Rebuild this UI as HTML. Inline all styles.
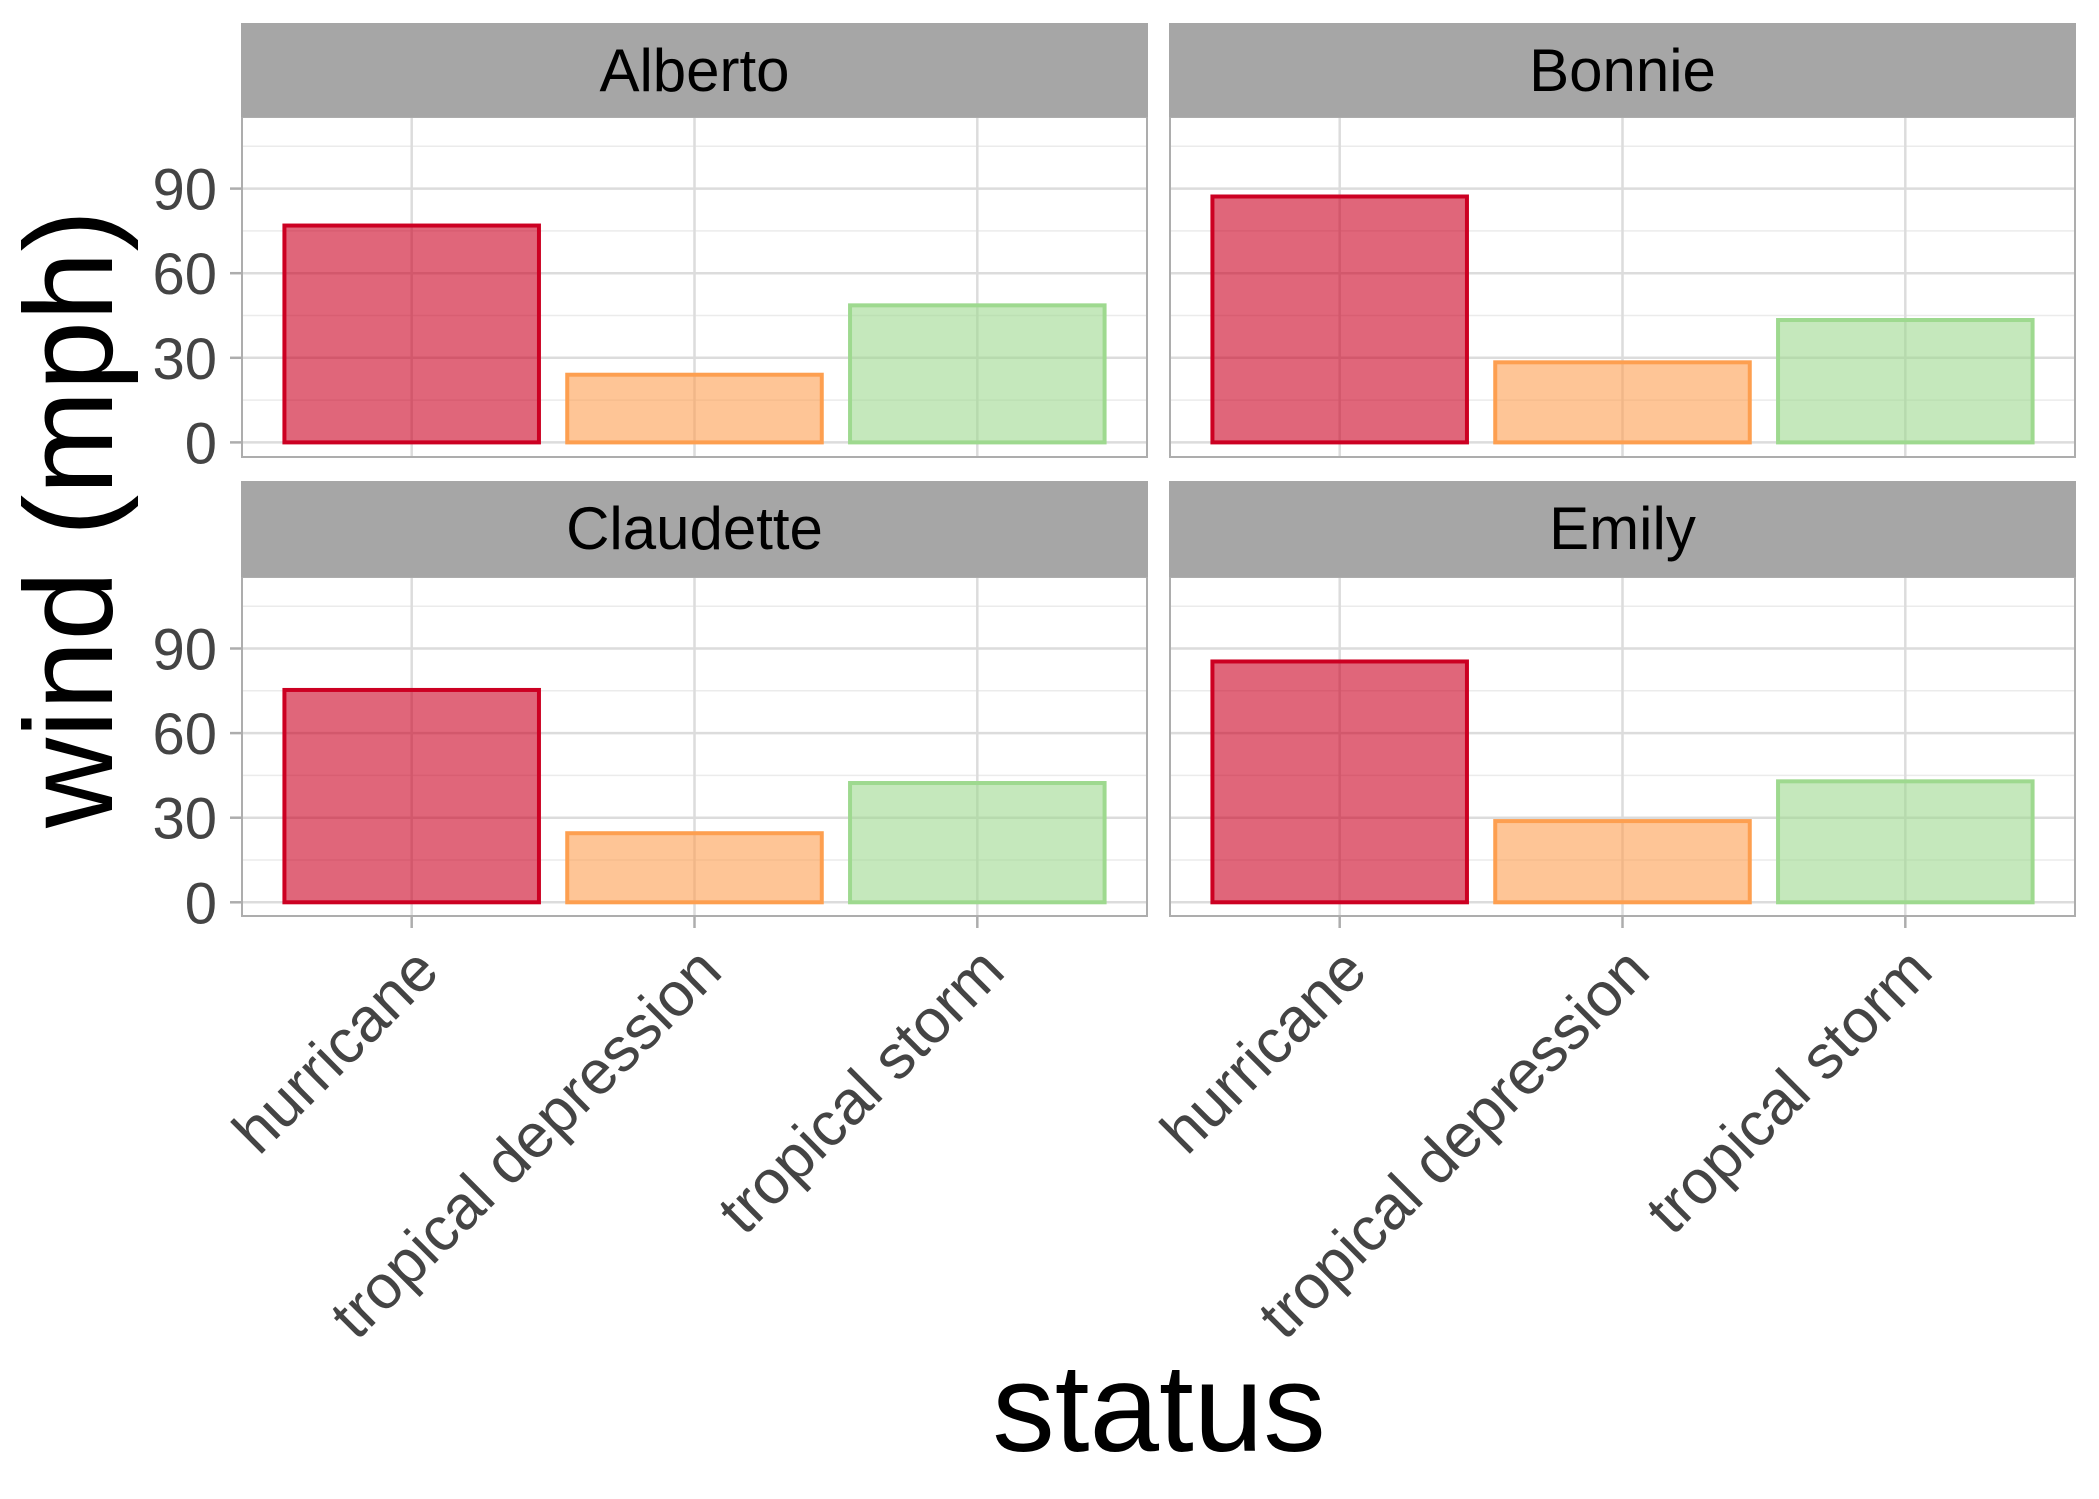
<!DOCTYPE html>
<html><head><meta charset="utf-8">
<style>
html,body{margin:0;padding:0;background:#fff;}
svg{display:block;font-family:"Liberation Sans",Arial,sans-serif;}
</style></head>
<body>
<svg id="chart" width="2099" height="1499" viewBox="0 0 2099 1499" xmlns="http://www.w3.org/2000/svg">
<rect width="2099" height="1499" fill="#fff"/>
<g id="panels"></g>
<text x="0" y="0" transform="translate(112,519) rotate(-90)" text-anchor="middle" font-size="125" fill="#000">wind (mph)</text>
<text x="1159" y="1451" text-anchor="middle" font-size="125" fill="#000">status</text>
</svg>
<script>
const storms = ["Alberto", "Bonnie", "Claudette", "Emily"];
const categories = ["hurricane", "tropical depression", "tropical storm"];
const windAlberto = [76.9, 24, 48.6];
const windBonnie = [87.2, 28.4, 43.4];
const windClaudette = [75.3, 24.5, 42.3];
const windEmily = [85.4, 28.8, 42.9];
const yTicks = [0, 30, 60, 90];
const yMinor = [15, 45, 75, 105];

const seriesByStorm = [windAlberto, windBonnie, windClaudette, windEmily];
const strokeColors = ["#cc0022", "#fd9f50", "#9ed98f"];
const NS = "http://www.w3.org/2000/svg";
const root = document.getElementById("panels");

const cols = [{x0: 242, x1: 1147}, {x0: 1170, x1: 2075}];
const rows = [{st: 23, pt: 117, pb: 457, zero: 442.4}, {st: 481, pt: 577, pb: 916, zero: 902.3}];
const pxPerUnit = 84.6 / 30;
const xExpand = 0.6;

function mk(tag, attrs, parent) {
  const e = document.createElementNS(NS, tag);
  for (const k in attrs) e.setAttribute(k, attrs[k]);
  parent.appendChild(e);
  return e;
}
function cat_slug(s) { return s.replace(/\s+/g, '-'); }

storms.forEach((name, i) => {
  const c = cols[i % 2], r = rows[Math.floor(i / 2)];
  const g = mk("g", {}, root);
  
  
  const n = categories.length;
  const step = (c.x1 - c.x0) / (n - 1 + 2 * xExpand);
  const xScale = k => c.x0 + step * (xExpand + k);
  const yScale = v => r.zero - v * pxPerUnit;
  mk("rect", {x: c.x0, y: r.pt, width: c.x1 - c.x0, height: r.pb - r.pt, fill: "#fff"}, g);
  yMinor.forEach(v => {
    const y = yScale(v);
    const l = mk("line", {x1: c.x0, x2: c.x1, y1: y, y2: y, stroke: "#ebebeb", "stroke-width": 1.5}, g);
    
    
  });
  yTicks.forEach(v => {
    const y = yScale(v);
    const l = mk("line", {x1: c.x0, x2: c.x1, y1: y, y2: y, stroke: "#dcdcdc", "stroke-width": 2.5}, g);
    
    
  });
  categories.forEach((cat, k) => {
    const x = xScale(k);
    mk("line", {x1: x, x2: x, y1: r.pt, y2: r.pb, stroke: "#dcdcdc", "stroke-width": 2.5}, g);
  });
  const vals = seriesByStorm[i];
  vals.forEach((v, k) => {
    const bw = step * 0.9;
    const x = xScale(k) - bw / 2;
    const y = yScale(v);
    const rect = mk("rect", {x: x, y: y, width: bw, height: yScale(0) - y, fill: strokeColors[k], "fill-opacity": 0.6, stroke: strokeColors[k], "stroke-width": 4}, g);
    
    
  });
  mk("rect", {x: c.x0, y: r.pt, width: c.x1 - c.x0, height: r.pb - r.pt, fill: "none", stroke: "#adadad", "stroke-width": 2}, g);
  const strip = mk("rect", {x: c.x0 - 1, y: r.st, width: c.x1 - c.x0 + 2, height: r.pt - r.st, fill: "#a6a6a6"}, g);
  
  
  const st = mk("text", {x: (c.x0 + c.x1) / 2, y: r.st + 68, "text-anchor": "middle", "font-size": 60, fill: "#000"}, g);
  st.textContent = name;
  
  
  if (i % 2 === 0) {
    yTicks.forEach(v => {
      const y = yScale(v);
      mk("line", {x1: c.x0 - 12, x2: c.x0, y1: y, y2: y, stroke: "#adadad", "stroke-width": 2.5}, g);
      const t = mk("text", {x: c.x0 - 25, y: y + 21, "text-anchor": "end", "font-size": 58, fill: "#444"}, g);
      t.textContent = v;
      
      
    });
  }
  if (Math.floor(i / 2) === 1) {
    categories.forEach((cat, k) => {
      const x = xScale(k);
      mk("line", {x1: x, x2: x, y1: r.pb, y2: r.pb + 12, stroke: "#adadad", "stroke-width": 2.5}, g);
      const t = mk("text", {x: 0, y: 0, "text-anchor": "end", "font-size": 62, fill: "#444", transform: "translate(" + (x + 30) + "," + (r.pb + 58) + ") rotate(-45)"}, g);
      t.textContent = cat;
      
      
    });
  }
});
</script>
</body></html>
